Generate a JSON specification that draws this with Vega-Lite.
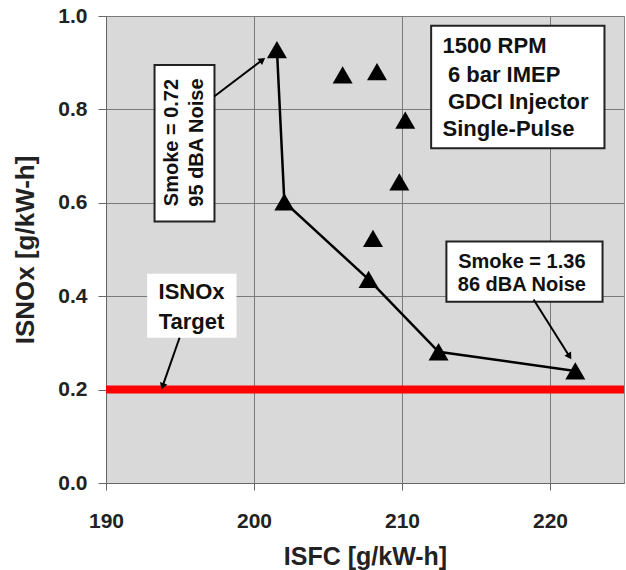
{
  "$schema": "https://vega.github.io/schema/vega-lite/v6.json",
  "width": 518,
  "height": 467,
  "autosize": {"type": "none"},
  "padding": {"left": 106, "top": 16, "right": 2, "bottom": 87},
  "background": "white",
  "config": {
    "font": "Liberation Sans",
    "view": {"fill": "#d9d9d9", "stroke": "#888888", "strokeWidth": 1},
    "axis": {
      "labelFont": "Liberation Sans",
      "labelFontWeight": "bold",
      "labelFontSize": 21,
      "labelColor": "#222222",
      "labelFlush": false,
      "titleFont": "Liberation Sans",
      "titleFontWeight": "bold",
      "titleColor": "#222222",
      "gridColor": "#7a7a7a",
      "gridOpacity": 1,
      "gridWidth": 1,
      "domainColor": "#666666",
      "tickColor": "#666666"
    }
  },
  "datasets": {
    "pts": [
      {"x": 201.55, "y": 0.928},
      {"x": 202.05, "y": 0.602},
      {"x": 205.99, "y": 0.874},
      {"x": 208.31, "y": 0.881},
      {"x": 210.22, "y": 0.777},
      {"x": 209.82, "y": 0.645},
      {"x": 208.04, "y": 0.524},
      {"x": 207.74, "y": 0.436},
      {"x": 212.47, "y": 0.281},
      {"x": 221.71, "y": 0.240}
    ],
    "front": [
      {"x": 201.55, "y": 0.928, "o": 1},
      {"x": 202.05, "y": 0.602, "o": 2},
      {"x": 207.74, "y": 0.436, "o": 3},
      {"x": 212.47, "y": 0.281, "o": 4},
      {"x": 221.71, "y": 0.240, "o": 5}
    ],
    "target": [{"x": 190, "x2": 225, "y": 0.2}],
    "arrows": [
      {"x": 197.33, "y": 0.828, "x2": 200.57, "y2": 0.906, "a": 53},
      {"x": 194.97, "y": 0.311, "x2": 193.82, "y2": 0.207, "a": 199},
      {"x": 218.89, "y": 0.393, "x2": 221.32, "y2": 0.271, "a": 148}
    ],
    "boxes": [
      {"x": 211.97, "x2": 223.68, "y": 0.979, "y2": 0.717},
      {"x": 193.28, "x2": 197.33, "y": 0.895, "y2": 0.560},
      {"x": 213.0, "x2": 223.55, "y": 0.517, "y2": 0.388}
    ],
    "plainbox": [{"x": 192.78, "x2": 198.82, "y": 0.448, "y2": 0.311}],
    "info": [
      {"x": 212.74, "y": 0.936, "t": "1500 RPM"},
      {"x": 213.1, "y": 0.873, "t": "6 bar IMEP"},
      {"x": 213.1, "y": 0.815, "t": "GDCI Injector"},
      {"x": 212.74, "y": 0.757, "t": "Single-Pulse"}
    ],
    "rot": [
      {"x": 194.47, "y": 0.729, "t": "Smoke = 0.72"},
      {"x": 196.18, "y": 0.729, "t": "95 dBA Noise"}
    ],
    "smoke2": [
      {"x": 218.1, "y": 0.474, "t": "Smoke = 1.36"},
      {"x": 218.1, "y": 0.425, "t": "86 dBA Noise"}
    ],
    "tgt": [
      {"x": 195.78, "y": 0.408, "t": "ISNOx"},
      {"x": 195.78, "y": 0.345, "t": "Target"}
    ]
  },
  "encoding": {
    "x": {
      "field": "x", "type": "quantitative",
      "scale": {"domain": [190, 225], "nice": false, "zero": false},
      "axis": {"values": [190, 200, 210, 220], "title": "ISFC [g/kW-h]", "titleFontSize": 25, "tickSize": 7, "labelPadding": 20, "titlePadding": 13, "grid": true}
    },
    "y": {
      "field": "y", "type": "quantitative",
      "scale": {"domain": [0, 1], "nice": false},
      "axis": {"values": [0, 0.2, 0.4, 0.6, 0.8, 1.0], "format": ".1f", "title": "ISNOx [g/kW-h]", "titleFontSize": 26, "tickSize": 8, "labelPadding": 11, "titlePadding": 19, "grid": true}
    }
  },
  "layer": [
    {
      "data": {"name": "target"},
      "mark": {"type": "rule", "color": "#ff0000", "strokeWidth": 8},
      "encoding": {"x2": {"field": "x2"}}
    },
    {
      "data": {"name": "plainbox"},
      "mark": {"type": "rect", "fill": "white"},
      "encoding": {"x2": {"field": "x2"}, "y2": {"field": "y2"}}
    },
    {
      "data": {"name": "boxes"},
      "mark": {"type": "rect", "fill": "white", "stroke": "#222222", "strokeWidth": 2},
      "encoding": {"x2": {"field": "x2"}, "y2": {"field": "y2"}}
    },
    {
      "data": {"name": "front"},
      "mark": {"type": "line", "color": "black", "strokeWidth": 2.5},
      "encoding": {"order": {"field": "o", "type": "quantitative"}}
    },
    {
      "data": {"name": "pts"},
      "mark": {"type": "point", "shape": "triangle-up", "filled": true, "color": "black", "opacity": 1, "size": 400}
    },
    {
      "data": {"name": "arrows"},
      "mark": {"type": "rule", "color": "black", "strokeWidth": 2},
      "encoding": {"x2": {"field": "x2"}, "y2": {"field": "y2"}}
    },
    {
      "data": {"name": "arrows"},
      "mark": {"type": "point", "shape": "triangle-up", "filled": true, "color": "black", "opacity": 1, "size": 60},
      "encoding": {
        "x": {"field": "x2", "type": "quantitative"},
        "y": {"field": "y2", "type": "quantitative"},
        "angle": {"field": "a", "type": "quantitative", "scale": null}
      }
    },
    {
      "data": {"name": "info"},
      "mark": {"type": "text", "align": "left", "baseline": "middle", "fontSize": 22, "fontWeight": "bold", "color": "#111111"},
      "encoding": {"text": {"field": "t"}}
    },
    {
      "data": {"name": "rot"},
      "mark": {"type": "text", "align": "center", "baseline": "middle", "angle": 270, "fontSize": 20, "fontWeight": "bold", "color": "#111111"},
      "encoding": {"text": {"field": "t"}}
    },
    {
      "data": {"name": "smoke2"},
      "mark": {"type": "text", "align": "center", "baseline": "middle", "fontSize": 20, "fontWeight": "bold", "color": "#111111"},
      "encoding": {"text": {"field": "t"}}
    },
    {
      "data": {"name": "tgt"},
      "mark": {"type": "text", "align": "center", "baseline": "middle", "fontSize": 22, "fontWeight": "bold", "color": "#111111"},
      "encoding": {"text": {"field": "t"}}
    }
  ]
}
